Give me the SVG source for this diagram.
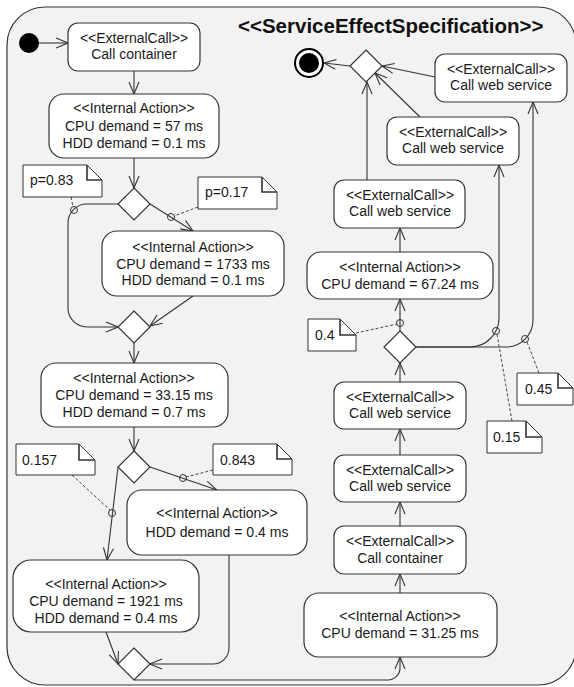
<svg xmlns="http://www.w3.org/2000/svg" width="574" height="687" viewBox="0 0 574 687">
<style>
.frame{fill:#f2f2f2;stroke:#333;stroke-width:1.2}
.box{fill:#fff;stroke:#333;stroke-width:1.2}
.dia{fill:#fff;stroke:#333;stroke-width:1.2}
.note{fill:#fff;stroke:#333;stroke-width:1}
.fold{fill:none;stroke:#333;stroke-width:1.6}
.t{font-family:"Liberation Sans",Arial,sans-serif;font-size:14px;fill:#1a1a1a;text-anchor:middle}
.nt{font-family:"Liberation Sans",Arial,sans-serif;font-size:14px;fill:#1a1a1a}
.title{font-family:"Liberation Sans",Arial,sans-serif;font-size:20.5px;font-weight:bold;fill:#111}
.e{fill:none;stroke:#333;stroke-width:1.1;marker-end:url(#arr)}
.d{fill:none;stroke:#333;stroke-width:0.9;stroke-dasharray:3,2}
.c{fill:none;stroke:#333;stroke-width:1}
</style>
<defs>
<marker id="arr" markerUnits="userSpaceOnUse" markerWidth="14" markerHeight="12" viewBox="0 0 14 12" refX="13" refY="6" orient="auto">
<path d="M1,1 L13,6 L1,11" fill="none" stroke="#333" stroke-width="1.1"/>
</marker>
</defs>
<rect class="frame" x="7" y="7" width="569" height="678" rx="38" ry="38"/>
<text class="title" x="238" y="32.5">&lt;&lt;ServiceEffectSpecification&gt;&gt;</text>

<g id="connectors">
<path class="e" d="M39,43 H68"/>
<path class="e" d="M134,71 V94"/>
<path class="e" d="M134,158 V188"/>
<path class="e" d="M118,204 H87 A19,19 0 0 0 68,223 V308 A19,19 0 0 0 87,327 H118"/>
<path class="e" d="M150,204 L193,231"/>
<path class="e" d="M193,296 L150,326"/>
<path class="e" d="M134,342 V363"/>
<path class="e" d="M134,427 V451"/>
<path class="e" d="M118,467 L107,560"/>
<path class="e" d="M150,467 L217,490"/>
<path class="e" d="M106,632 L118,664"/>
<path class="e" d="M229,555 V648 A16,16 0 0 1 213,664 H150"/>
<path class="e" d="M134,680 H388 A12,12 0 0 0 400,668 V657"/>
<path class="e" d="M400,593 V574"/>
<path class="e" d="M400,526 V502"/>
<path class="e" d="M400,455 V429"/>
<path class="e" d="M400,382 V363"/>
<path class="e" d="M400,331 V299"/>
<path class="e" d="M400,252 V228"/>
<path class="e" d="M367,180 V82"/>
<path class="e" d="M420,117 L375,73"/>
<path class="e" d="M435,77 L382,66"/>
<path class="e" d="M350,66 L324,63"/>
<path class="e" d="M416,347 H470 A29,29 0 0 0 499,318 V165"/>
<path class="e" d="M416,347 H506 A27,27 0 0 0 533,320 V102"/>
<circle class="c" cx="74" cy="210" r="3.5"/>
<circle class="c" cx="171" cy="217" r="3.5"/>
<circle class="c" cx="112" cy="513" r="3.5"/>
<circle class="c" cx="183" cy="478" r="3.5"/>
<circle class="c" cx="400" cy="323" r="3.5"/>
<circle class="c" cx="496" cy="331" r="3.5"/>
<circle class="c" cx="525" cy="339" r="3.5"/>
<path class="d" d="M71,197 L73,207"/>
<path class="d" d="M198,207 L174,216"/>
<path class="d" d="M72,475 L110,510"/>
<path class="d" d="M213,470 L186,477"/>
<path class="d" d="M356,333 L397,324"/>
<path class="d" d="M539,373 L527,342"/>
<path class="d" d="M512,421 L497,334"/>
</g>

<g id="start"><circle cx="29" cy="43" r="10" fill="#000"/></g>
<g id="end"><circle cx="309" cy="63" r="14" fill="#fff" stroke="#000" stroke-width="2"/><circle cx="309" cy="63" r="10" fill="#000"/></g>

<g id="ec1"><rect class="box" x="68" y="23" width="132" height="48" rx="10"/>
<text class="t" x="134" y="42.5">&lt;&lt;ExternalCall&gt;&gt;</text><text class="t" x="134" y="59">Call container</text></g>

<g id="ia1"><rect class="box" x="49" y="94" width="170" height="64" rx="15"/>
<text class="t" x="134" y="113">&lt;&lt;Internal Action&gt;&gt;</text><text class="t" x="134" y="130.5">CPU demand = 57 ms</text><text class="t" x="134" y="148">HDD demand = 0.1 ms</text></g>

<g id="d1"><polygon class="dia" points="134,188 150,204 134,220 118,204"/></g>

<g id="ia2"><rect class="box" x="102" y="231" width="182" height="65" rx="15"/>
<text class="t" x="193" y="251.5">&lt;&lt;Internal Action&gt;&gt;</text><text class="t" x="193" y="268.5">CPU demand = 1733 ms</text><text class="t" x="193" y="285">HDD demand = 0.1 ms</text></g>

<g id="d2"><polygon class="dia" points="134,311 150,327 134,343 118,327"/></g>

<g id="ia3"><rect class="box" x="41" y="363" width="187" height="64" rx="15"/>
<text class="t" x="134" y="383">&lt;&lt;Internal Action&gt;&gt;</text><text class="t" x="134" y="400">CPU demand = 33.15 ms</text><text class="t" x="134" y="417">HDD demand = 0.7 ms</text></g>

<g id="d3"><polygon class="dia" points="134,451 150,467 134,483 118,467"/></g>

<g id="ia5"><rect class="box" x="127" y="490" width="180" height="65" rx="15"/>
<text class="t" x="217" y="518">&lt;&lt;Internal Action&gt;&gt;</text><text class="t" x="217" y="537">HDD demand = 0.4 ms</text></g>

<g id="ia4"><rect class="box" x="13" y="560" width="186" height="72" rx="18"/>
<text class="t" x="106" y="589">&lt;&lt;Internal Action&gt;&gt;</text><text class="t" x="106" y="606">CPU demand = 1921 ms</text><text class="t" x="106" y="623">HDD demand = 0.4 ms</text></g>

<g id="d4"><polygon class="dia" points="134,648 150,664 134,680 118,664"/></g>

<g id="ia6"><rect class="box" x="304" y="593" width="193" height="64" rx="15"/>
<text class="t" x="400" y="621">&lt;&lt;Internal Action&gt;&gt;</text><text class="t" x="400" y="638">CPU demand = 31.25 ms</text></g>

<g id="ec2"><rect class="box" x="334" y="526" width="132" height="48" rx="10"/>
<text class="t" x="400" y="546">&lt;&lt;ExternalCall&gt;&gt;</text><text class="t" x="400" y="562.5">Call container</text></g>

<g id="ws4"><rect class="box" x="334" y="455" width="132" height="47" rx="10"/>
<text class="t" x="400" y="475">&lt;&lt;ExternalCall&gt;&gt;</text><text class="t" x="400" y="491">Call web service</text></g>

<g id="ws3"><rect class="box" x="334" y="382" width="132" height="47" rx="10"/>
<text class="t" x="400" y="402">&lt;&lt;ExternalCall&gt;&gt;</text><text class="t" x="400" y="418">Call web service</text></g>

<g id="d5"><polygon class="dia" points="400,331 416,347 400,363 384,347"/></g>

<g id="ia7"><rect class="box" x="307" y="252" width="186" height="47" rx="14"/>
<text class="t" x="400" y="272">&lt;&lt;Internal Action&gt;&gt;</text><text class="t" x="400" y="289">CPU demand = 67.24 ms</text></g>

<g id="ws2b"><rect class="box" x="334" y="180" width="131" height="48" rx="10"/>
<text class="t" x="400" y="199.5">&lt;&lt;ExternalCall&gt;&gt;</text><text class="t" x="400" y="215.5">Call web service</text></g>

<g id="ws2"><rect class="box" x="387" y="117" width="132" height="48" rx="10"/>
<text class="t" x="453" y="137">&lt;&lt;ExternalCall&gt;&gt;</text><text class="t" x="453" y="153">Call web service</text></g>

<g id="ws1"><rect class="box" x="435" y="54" width="132" height="48" rx="10"/>
<text class="t" x="501" y="73.5">&lt;&lt;ExternalCall&gt;&gt;</text><text class="t" x="501" y="90">Call web service</text></g>

<g id="d6"><polygon class="dia" points="366,50 382,66 366,82 350,66"/></g>

<g id="n1"><path class="note" d="M23,165 H87 L102,180 V197 H23 Z"/><path class="fold" d="M87,165 V180 H102"/><text class="nt" x="30" y="185">p=0.83</text></g>
<g id="n2"><path class="note" d="M198,177 H262 L277,192 V209 H198 Z"/><path class="fold" d="M262,177 V192 H277"/><text class="nt" x="205" y="197">p=0.17</text></g>
<g id="n3"><path class="note" d="M16,444 H79 L95,460 V475 H16 Z"/><path class="fold" d="M79,444 V460 H95"/><text class="nt" x="22" y="465">0.157</text></g>
<g id="n4"><path class="note" d="M213,444 H277 L292,459 V475 H213 Z"/><path class="fold" d="M277,444 V459 H292"/><text class="nt" x="220" y="465">0.843</text></g>
<g id="n5"><path class="note" d="M308,319 H340 L356,335 V351 H308 Z"/><path class="fold" d="M340,319 V335 H356"/><text class="nt" x="315" y="339.5">0.4</text></g>
<g id="n6"><path class="note" d="M517,373 H558 L573,388 V405 H517 Z"/><path class="fold" d="M558,373 V388 H573"/><text class="nt" x="525" y="394">0.45</text></g>
<g id="n7"><path class="note" d="M487,421 H526 L542,437 V453 H487 Z"/><path class="fold" d="M526,421 V437 H542"/><text class="nt" x="493" y="441.5">0.15</text></g>
</svg>
